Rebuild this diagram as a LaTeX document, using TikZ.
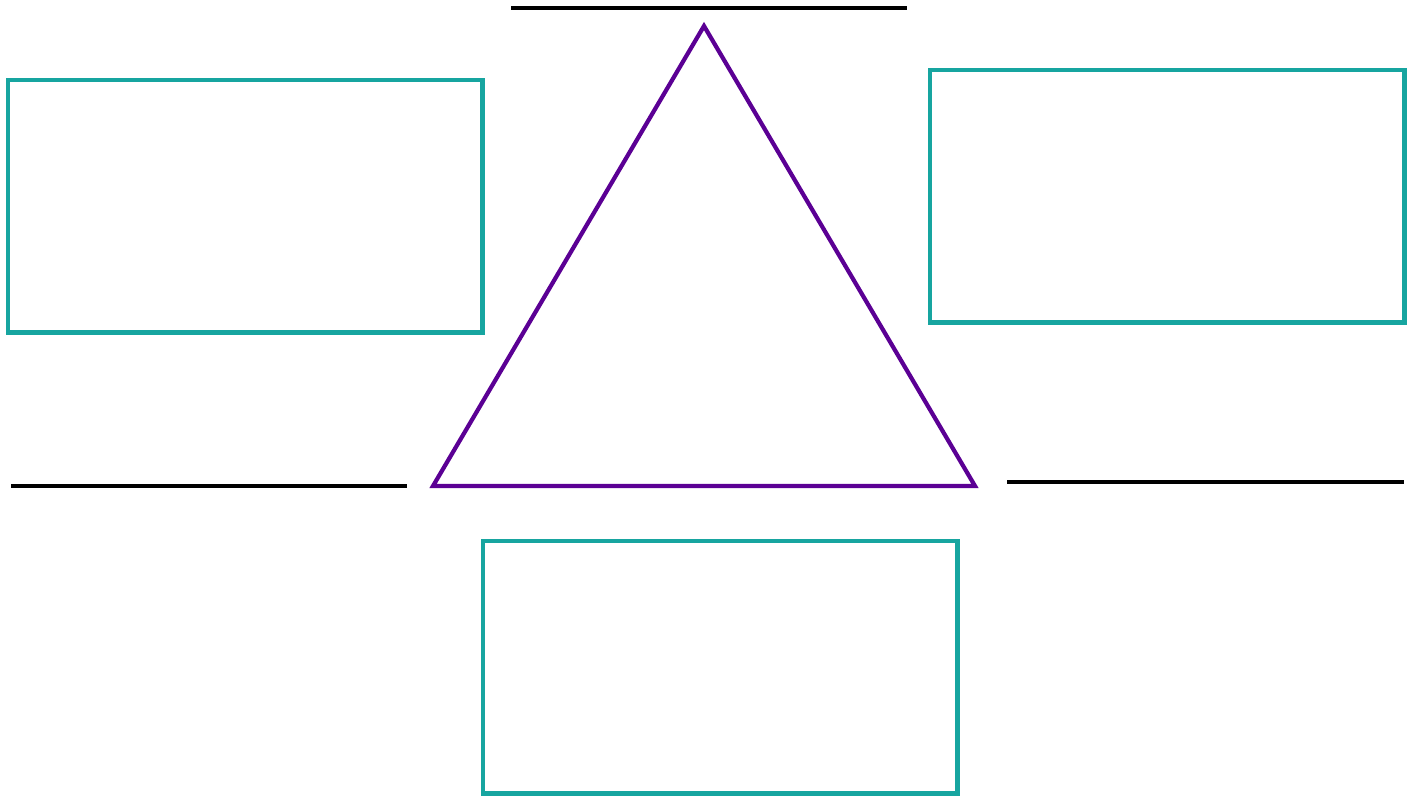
\documentclass[tikz,border=0pt]{standalone}
\usepackage{tikz}
\usetikzlibrary{positioning}
\definecolor{tealbox}{HTML}{17A5A0}
\definecolor{purpletri}{HTML}{5B0094}

\begin{document}
\begin{tikzpicture}[
  x=0.02cm, y=-0.02cm,
  box/.style={draw=tealbox, line width=2.8pt, minimum width=9.5cm, minimum height=5.06cm, inner sep=0pt, outer sep=0pt, anchor=north west},
  blank/.style={draw=black, line width=2.8pt},
  tri/.style={draw=purpletri, line width=2.4pt, line join=miter}
]
\useasboundingbox (0,0) rectangle (1414,797);
% answer boxes
\node[box] (leftbox) at (8,80) {};
\node[box] (rightbox) at (930,70) {};
\node[box] (bottombox) at (483,541) {};
% triangle
\coordinate (apex) at (704,26);
\coordinate (baseL) at (433,486);
\coordinate (baseR) at (975,486);
\draw[tri] (apex) -- (baseR) -- (baseL) -- cycle;
% blank lines
\coordinate (topA) at (511,8);
\coordinate (topB) at (907,8);
\coordinate (leftA) at (11,486);
\coordinate (leftB) at (407,486);
\coordinate (rightA) at (1007,482);
\coordinate (rightB) at (1404,482);
\draw[blank] (topA) -- (topB);
\draw[blank] (leftA) -- (leftB);
\draw[blank] (rightA) -- (rightB);
\end{tikzpicture}
\end{document}
